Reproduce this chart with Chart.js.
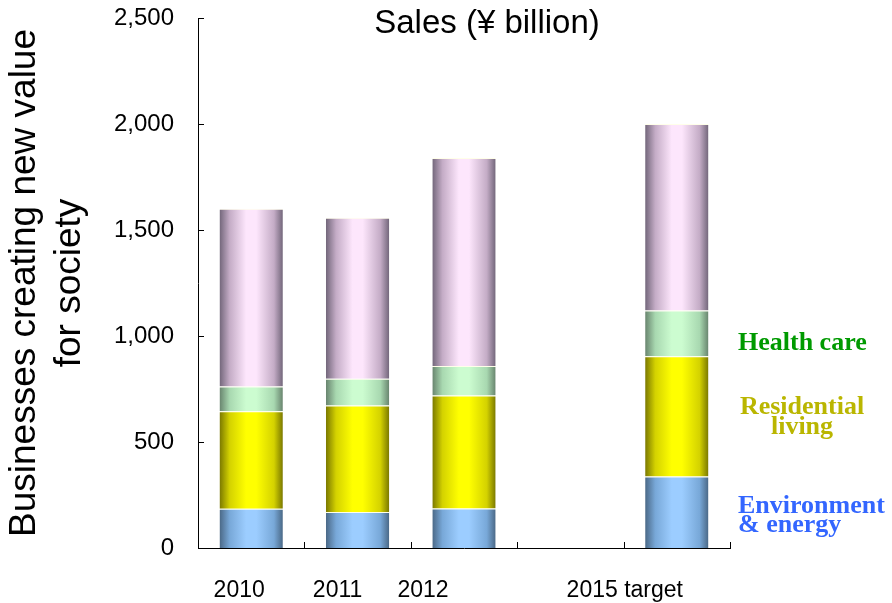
<!DOCTYPE html>
<html>
<head>
<meta charset="utf-8">
<script src="https://cdn.jsdelivr.net/npm/chart.js@4/dist/chart.umd.min.js"></script>
<style>
  html, body { margin: 0; padding: 0; background: #fff; }
  #wrap { width: 892px; height: 603px; }
</style>
</head>
<body>
<div id="wrap"><canvas id="salesChart" width="892" height="603"></canvas></div>
<script>
// Sales of businesses creating new value for society (¥ billion)
const categories = ['2010', '2011', '2012', '', '2015 target'];
const envEnergy = [185, 170, 186, null, 337];
const residential = [460, 502, 533, null, 568];
const healthCare = [117, 126, 139, null, 215];
const otherBiz = [838, 760, 982, null, 880];
const yTicks = [0, 500, 1000, 1500, 2000, 2500];

const SANS = '"Liberation Sans", Arial, sans-serif';
const SERIF = '"Liberation Serif", "Times New Roman", serif';
const BAR_PCT = 0.595;
const TICK_LEN = 6;

// shift of each category label relative to its bar centre
const labelShift = [-12, -20, -41, 0, -52];

// edge / mid / highlight colours for the cylinder shading
const shades = {
  env: ['#4a6886', '#78a8d8', '#9ccdff'],
  res: ['#7a7800', '#d4d200', '#ffff00'],
  health: ['#68846e', '#a8d8b0', '#ccfcd0'],
  other: ['#72667a', '#c4acc6', '#fde6fc']
};

function cylinder(stops) {
  return function(ctx) {
    const chart = ctx.chart;
    const xs = chart.scales.x;
    if (!xs || ctx.dataIndex === undefined) return stops[2];
    const centre = xs.getPixelForValue(ctx.dataIndex);
    const half = xs.width / categories.length * BAR_PCT / 2;
    if (!isFinite(centre) || !isFinite(half) || half <= 0) return stops[2];
    const g = chart.ctx.createLinearGradient(centre - half, 0, centre + half, 0);
    g.addColorStop(0, stops[0]);
    g.addColorStop(0.16, stops[1]);
    g.addColorStop(0.42, stops[2]);
    g.addColorStop(0.58, stops[2]);
    g.addColorStop(0.86, stops[1]);
    g.addColorStop(1, stops[0]);
    return g;
  };
}

function series(label, data, stops) {
  return {
    label: label,
    data: data,
    backgroundColor: cylinder(stops),
    borderColor: 'rgba(255,255,225,0.75)',
    borderWidth: { top: 1, left: 0, right: 0, bottom: 0 },
    borderSkipped: false,
    barPercentage: BAR_PCT,
    categoryPercentage: 1
  };
}

const sideLabels = [
  { ds: 2, lines: ['Health care'], color: '#009a00', dx: 8, align: 'left', dy: [17] },
  { ds: 1, lines: ['Residential', 'living'], color: '#bab600', dx: 72, align: 'center', dy: [-2, 18] },
  { ds: 0, lines: ['Environment', '& energy'], color: '#3366ff', dx: 8, align: 'left', dy: [1, 20] }
];

const textPlugin = {
  id: 'chartText',
  afterDraw(chart) {
    const ctx = chart.ctx;
    const area = chart.chartArea;
    const xs = chart.scales.x;
    const ys = chart.scales.y;
    ctx.save();

    // inward tick marks on both axes
    ctx.strokeStyle = '#000';
    ctx.lineWidth = 1;
    ctx.beginPath();
    yTicks.forEach(v => {
      const py = Math.round(ys.getPixelForValue(v)) + 0.5;
      ctx.moveTo(area.left, py);
      ctx.lineTo(area.left + TICK_LEN, py);
    });
    const step = xs.width / categories.length;
    for (let i = 1; i <= categories.length; i++) {
      const px = Math.round(area.left + step * i) + 0.5;
      ctx.moveTo(px, area.bottom);
      ctx.lineTo(px, area.bottom - TICK_LEN);
    }
    ctx.stroke();

    // heading inside the plot
    ctx.fillStyle = '#000';
    ctx.font = '33px ' + SANS;
    ctx.textAlign = 'center';
    ctx.textBaseline = 'alphabetic';
    ctx.fillText('Sales (¥ billion)', (area.left + area.right) / 2 + 23, 33);

    // category labels
    ctx.font = '23px ' + SANS;
    categories.forEach((c, i) => {
      if (!c) return;
      ctx.fillText(c, xs.getPixelForValue(i) + labelShift[i], area.bottom + 49);
    });

    // segment names beside the last bar
    const last = categories.length - 1;
    const stacks = chart.data.datasets.map(d => d.data[last]);
    ctx.font = 'bold 26px ' + SERIF;
    sideLabels.forEach(l => {
      let base = 0;
      for (let k = 0; k < l.ds; k++) base += stacks[k];
      const mid = ys.getPixelForValue(base + stacks[l.ds] / 2);
      ctx.fillStyle = l.color;
      ctx.textAlign = l.align;
      l.lines.forEach((t, j) => ctx.fillText(t, area.right + l.dx, mid + l.dy[j]));
    });
    ctx.restore();
  }
};

new Chart(document.getElementById('salesChart'), {
  type: 'bar',
  data: {
    labels: categories,
    datasets: [
      series('Environment & energy', envEnergy, shades.env),
      series('Residential living', residential, shades.res),
      series('Health care', healthCare, shades.health),
      series('Other', otherBiz, shades.other)
    ]
  },
  options: {
    responsive: false,
    animation: false,
    devicePixelRatio: 1,
    layout: { padding: { top: 18, right: 162, left: 0, bottom: 0 } },
    plugins: {
      legend: { display: false },
      tooltip: { enabled: false },
      title: { display: false }
    },
    scales: {
      x: {
        stacked: true,
        grid: { display: false },
        border: { display: true, color: '#000', width: 1 },
        ticks: { display: true, color: 'rgba(0,0,0,0)', font: { size: 23, family: SANS } },
        afterFit: s => { s.height = 55; s.paddingLeft = 0; s.paddingRight = 0; }
      },
      y: {
        stacked: true,
        min: 0,
        max: 2500,
        afterBuildTicks: s => { s.ticks = yTicks.map(v => ({ value: v })); },
        grid: { display: false },
        border: { display: true, color: '#000', width: 1 },
        ticks: {
          color: '#000',
          padding: 16,
          font: { size: 24, family: SANS },
          callback: v => v.toLocaleString('en-US')
        },
        title: {
          display: true,
          text: ['Businesses creating new value', 'for society'],
          color: '#000',
          font: { size: 37, family: SANS, lineHeight: 1.22 },
          padding: { top: 2, bottom: 0 }
        },
        afterFit: s => { s.width = 198; s.paddingTop = 0; s.paddingBottom = 0; }
      }
    }
  },
  plugins: [textPlugin]
});
</script>
</body>
</html>
